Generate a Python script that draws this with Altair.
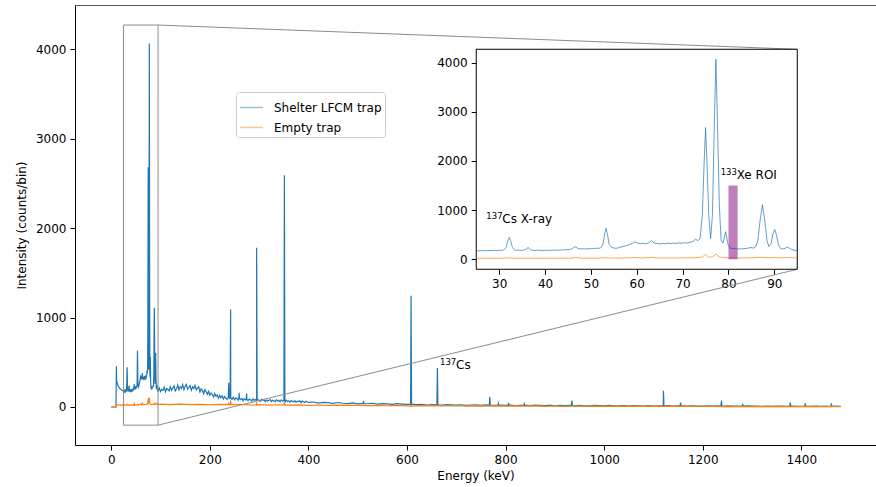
import altair as alt
import pandas as pd

FONT = "DejaVu Sans"
SERIES = ["Shelter LFCM trap", "Empty trap"]
COLORS = ["#1f77b4", "#ff7f0e"]

# ---------------- data (energy keV, counts/bin) ----------------
shelter_low = [(0.0, 0), (9.6, 0), (10.0, 200), (10.4, 455), (10.8, 300), (11.5, 280),
               (12.5, 262), (13.5, 245), (14.5, 232), (15.5, 222), (17.0, 210), (18.5, 200),
               (20.0, 195), (21.5, 188), (23.0, 182), (24.2, 178)]

shelter_zoom = [
    (25.0, 175), (25.5, 168), (26.0, 178), (26.5, 172), (27.0, 180), (27.5, 174), (28.0, 182),
    (28.5, 176), (29.0, 185), (29.5, 178), (30.0, 184), (30.5, 180), (31.0, 190), (31.5, 240),
    (31.9, 380), (32.2, 445), (32.5, 380), (32.9, 240), (33.3, 190), (33.8, 182), (34.3, 188),
    (34.8, 180), (35.3, 186), (35.8, 200), (36.3, 240), (36.8, 195), (37.3, 182), (37.8, 178),
    (38.3, 186), (38.8, 180), (39.3, 176), (39.8, 184), (40.3, 178), (40.8, 186), (41.3, 180),
    (41.8, 188), (42.3, 184), (42.8, 190), (43.3, 186), (43.8, 194), (44.3, 190), (44.8, 198),
    (45.3, 196), (45.8, 210), (46.3, 240), (46.7, 255), (47.1, 225), (47.6, 210), (48.1, 214),
    (48.6, 208), (49.1, 216), (49.6, 210), (50.1, 222), (50.6, 218), (51.1, 226), (51.6, 222),
    (52.1, 230), (52.6, 290), (53.0, 520), (53.3, 630), (53.6, 510), (54.0, 300), (54.5, 245),
    (55.0, 230), (55.5, 222), (56.0, 235), (56.5, 248), (57.0, 262), (57.5, 270), (58.0, 290),
    (58.5, 300), (59.0, 320), (59.6, 355), (60.2, 330), (60.8, 318), (61.4, 325), (62.0, 312),
    (62.6, 335), (63.2, 380), (63.8, 330), (64.4, 320), (65.0, 312), (65.6, 322), (66.2, 315),
    (66.8, 328), (67.4, 318), (68.0, 330), (68.6, 322), (69.2, 335), (69.8, 325), (70.4, 338),
    (71.0, 330), (71.6, 348), (72.2, 360), (72.8, 410), (73.3, 380), (73.8, 420), (74.3, 900),
    (74.7, 2000), (75.0, 2680), (75.3, 2000), (75.7, 900), (76.1, 420), (76.5, 900),
    (76.9, 2700), (77.25, 4065), (77.6, 2800), (78.0, 1100), (78.4, 380), (78.8, 330),
    (79.4, 560), (79.9, 300), (80.4, 225), (80.9, 215), (81.4, 220), (81.9, 208), (82.4, 215),
    (82.9, 210), (83.4, 218), (83.9, 222), (84.4, 228), (84.9, 240), (85.4, 228), (85.9, 250),
    (86.4, 380), (86.9, 800), (87.4, 1110), (87.9, 800), (88.4, 380), (88.8, 260), (89.3, 320),
    (89.7, 520), (90.1, 605), (90.5, 480), (90.9, 290), (91.4, 215), (91.9, 210), (92.4, 225),
    (92.8, 245), (93.3, 225), (93.8, 200), (94.3, 185), (95.0, 175)]

# continuum 97.5 - 400 keV, one value every 2.5 keV
cont_start, cont_step = 97.5, 2.5
shelter_cont = [
    212, 172, 196, 186, 224, 170, 205, 198, 180, 226,
    188, 214, 236, 180, 204, 244, 192, 226, 210, 250,
    196, 232, 252, 200, 218, 240, 188, 226, 206, 242,
    190, 214, 226, 168, 204, 184, 150, 196, 170, 142,
    176, 132, 156, 140, 112, 150, 120, 134, 98, 130,
    104, 126, 90, 116, 100, 84, 118, 96, 104, 86,
    108, 80, 100, 94, 76, 104, 84, 96, 70, 92,
    80, 96, 72, 88, 80, 66, 92, 74, 84, 68,
    84, 70, 62, 86, 74, 80, 60, 78, 68, 76,
    84, 60, 76, 70, 58, 82, 66, 74, 56, 78,
    66, 74, 54, 76, 62, 70, 52, 72, 64, 56,
    70, 52, 64, 60, 68, 48, 66, 58, 50, 64,
    56, 52]

# continuum 410 - 1480 keV, one value every 10 keV
tail_start, tail_step = 410.0, 10.0
shelter_tail = [
    56, 44, 52, 48, 40, 50, 42, 38, 46, 36,
    40, 36, 42, 32, 38, 35, 30, 38, 33, 29,
    31, 27, 30, 22, 28, 25, 21, 27, 23, 20,
    25, 19, 22, 24, 18, 23, 20, 17, 22, 18,
    22, 16, 19, 21, 15, 20, 17, 15, 20, 14,
    19, 15, 17, 13, 18, 14, 12, 17, 15, 12,
    17, 12, 14, 16, 11, 15, 13, 11, 15, 10,
    14, 11, 15, 10, 12, 14, 9, 13, 11, 9,
    13, 10, 12, 8, 13, 9, 11, 8, 12, 9,
    11, 8, 10, 7, 11, 9, 7, 10, 8, 6,
    10, 7, 9, 6, 10, 5, 9, 6]

# gamma lines: (energy, peak height, local continuum)
shelter_peaks = [(238.4, 270, 105), (242.2, 1090, 100), (259.6, 160, 90), (274.8, 150, 82),
                 (295.0, 1780, 78), (351.3, 2590, 66), (511.7, 66, 38), (608.3, 1245, 30),
                 (661.7, 436, 24), (768.0, 115, 20), (785.5, 40, 19), (806.0, 45, 18),
                 (838.0, 35, 17), (934.5, 72, 15), (1120.3, 182, 12), (1155.0, 50, 12),
                 (1238.0, 72, 11), (1281.0, 32, 10), (1377.5, 50, 9), (1408.0, 42, 8),
                 (1461.0, 40, 8)]

empty_low = [(0.0, 0), (9.8, 0), (10.2, 30), (11.0, 26), (13.0, 24), (16.0, 25), (19.0, 22),
             (22.0, 24), (25.0, 20), (27.0, 23), (29.0, 19), (31.0, 22), (32.2, 30), (33.4, 21),
             (36.0, 23), (38.0, 20), (40.0, 22), (42.0, 21), (44.0, 23), (46.0, 22), (46.7, 38),
             (47.5, 24), (50.0, 22), (52.0, 24), (53.3, 32), (54.5, 23), (57.0, 24), (59.6, 36),
             (61.0, 26), (63.3, 42), (64.5, 27), (67.0, 26), (70.0, 28), (72.5, 32), (74.3, 45),
             (75.0, 98), (75.7, 42), (76.4, 48), (77.25, 106), (78.0, 46), (79.0, 34),
             (80.0, 28), (82.0, 27), (85.0, 30), (87.4, 40), (88.5, 29), (90.1, 36), (91.0, 29),
             (92.8, 40), (94.0, 30), (95.0, 27)]

# empty trap continuum 100 - 1480 keV, one value every 20 keV
empty_start, empty_step = 100.0, 20.0
empty_cont = [
    32, 27, 31, 26, 30, 25, 29, 24, 28, 23,
    26, 21, 25, 20, 24, 19, 22, 18, 21, 17,
    19, 15, 18, 14, 17, 13, 16, 12, 15, 11,
    14, 10, 13, 10, 13, 9, 12, 9, 12, 8,
    11, 8, 11, 7, 10, 7, 10, 7, 9, 6,
    9, 6, 9, 6, 8, 6, 8, 5, 8, 5,
    7, 5, 7, 5, 7, 4, 6, 4, 6, 4]
empty_peaks = [(238.4, 40, 26), (242.2, 72, 26), (295.0, 42, 22), (351.3, 48, 20),
               (609.0, 22, 11), (1461.0, 12, 4)]

roi_kev = (80.0, 82.0)
roi_height = 1500

main_notes = [("137", "Cs", 667.0, 421.0)]
inset_notes = [("137", "Cs X-ray", 27.2, 732.0), ("133", "Xe ROI", 78.3, 1627.0)]

x_ticks = [0, 200, 400, 600, 800, 1000, 1200, 1400]
y_ticks = [0, 1000, 2000, 3000, 4000]
inset_x_ticks = [30, 40, 50, 60, 70, 80, 90]
inset_y_ticks = [0, 1000, 2000, 3000, 4000]

# ---------------- layout ----------------
W, H = 801, 440
X_DOM = [-73.5, 1551.5]
Y_DOM = [-425, 4495]
IX_DOM = [25, 95]
IY_DOM = [-203, 4271]
INSET_BOX = (740.5, 1391.8, 1540.0, 4000.0)   # inset placement in main data coords


def px(x):
    return (x - X_DOM[0]) / (X_DOM[1] - X_DOM[0]) * W


def py(y):
    return H - (y - Y_DOM[0]) / (Y_DOM[1] - Y_DOM[0]) * H


ix0, ix1 = px(INSET_BOX[0]), px(INSET_BOX[1])
iy_bot, iy_top = py(INSET_BOX[2]), py(INSET_BOX[3])


def build(low, grids, peaks, half):
    pts = list(low)
    for start, step, vals in grids:
        pts += [(start + i * step, v) for i, v in enumerate(vals)]
    for e, h, b in peaks:
        pts += [(e - half, b), (e, h), (e + half, b)]
    pts.sort()
    return pd.DataFrame(pts, columns=["energy", "counts"])


blue_df = build(shelter_low + shelter_zoom,
                [(cont_start, cont_step, shelter_cont), (tail_start, tail_step, shelter_tail)],
                shelter_peaks, 1.0)
blue_df["series"] = SERIES[0]
orange_df = build(empty_low, [(empty_start, empty_step, empty_cont)], empty_peaks, 1.0)
orange_df["series"] = SERIES[1]

blue_in = blue_df[(blue_df.energy >= IX_DOM[0]) & (blue_df.energy <= IX_DOM[1])]
orange_in = orange_df[(orange_df.energy >= IX_DOM[0]) & (orange_df.energy <= IX_DOM[1])]

zoom_rect = pd.DataFrame({"energy": [IX_DOM[0]], "energy_end": [IX_DOM[1]],
                          "counts": [IY_DOM[0]], "counts_end": [IY_DOM[1]]})
connectors = pd.DataFrame({"energy": [IX_DOM[1], IX_DOM[1]],
                           "energy_end": [INSET_BOX[1], INSET_BOX[1]],
                           "counts": [IY_DOM[1], IY_DOM[0]],
                           "counts_end": [INSET_BOX[3], INSET_BOX[2]]})
roi_df = pd.DataFrame({"energy": [roi_kev[0]], "energy_end": [roi_kev[1]],
                       "counts": [0], "counts_end": [roi_height]})
main_notes_df = pd.DataFrame(main_notes, columns=["sup", "base", "energy", "counts"])
inset_notes_df = pd.DataFrame(inset_notes, columns=["sup", "base", "energy", "counts"])

# ---------------- main axes ----------------
xm = alt.X("energy:Q", scale=alt.Scale(domain=X_DOM, nice=False, zero=False),
           axis=alt.Axis(orient="bottom", values=x_ticks, format="d", title="Energy (keV)",
                         titlePadding=5))
ym = alt.Y("counts:Q", scale=alt.Scale(domain=Y_DOM, nice=False, zero=False),
           axis=alt.Axis(orient="left", values=y_ticks, format="d", title="Intensity (counts/bin)",
                         titlePadding=7))
color = alt.Color("series:N", scale=alt.Scale(domain=SERIES, range=COLORS),
                  legend=alt.Legend(orient="none", legendX=161, legendY=87, title=None,
                                    symbolType="stroke", symbolSize=529, symbolStrokeWidth=1.5,
                                    symbolOpacity=0.45, labelFont=FONT, labelFontSize=12,
                                    labelColor="black", padding=3, rowPadding=1, labelOffset=10,
                                    strokeColor="#cccccc", fillColor="white", cornerRadius=3,
                                    labelLimit=300))

blue_main = alt.Chart(blue_df).mark_line(strokeWidth=1.2, clip=True).encode(x=xm, y=ym, color=color)
orange_main = alt.Chart(orange_df).mark_line(strokeWidth=1.2, clip=True).encode(x=xm, y=ym, color=color)
rect_main = alt.Chart(zoom_rect).mark_rect(fill="white", fillOpacity=0, stroke="#8c8c8c",
                                           strokeWidth=1).encode(
    x=xm, x2="energy_end:Q", y=ym, y2="counts_end:Q")
note_sup = alt.Chart(main_notes_df).mark_text(font=FONT, fontSize=8.5, align="left",
                                              baseline="alphabetic", dy=-4.5, color="black").encode(
    x=xm, y=ym, text="sup:N")
note_base = alt.Chart(main_notes_df).mark_text(font=FONT, fontSize=12, align="left",
                                               baseline="alphabetic", dx=16, color="black").encode(
    x=xm, y=ym, text="base:N")
main = alt.layer(blue_main, orange_main, rect_main, note_sup, note_base)

# ---------------- connectors + top frame line ----------------
xc = alt.X("energy:Q", scale=alt.Scale(domain=X_DOM, nice=False, zero=False),
           axis=alt.Axis(orient="top", labels=False, ticks=False, domain=True,
                         domainColor="#555555", title=None))
yc = alt.Y("counts:Q", scale=alt.Scale(domain=Y_DOM, nice=False, zero=False), axis=None)
conn = alt.Chart(connectors).mark_rule(color="#8c8c8c", strokeWidth=1).encode(
    x=xc, x2="energy_end:Q", y=yc, y2="counts_end:Q")

# ---------------- inset axes ----------------
xi = alt.X("energy:Q", scale=alt.Scale(domain=IX_DOM, range=[ix0, ix1], nice=False, zero=False),
           axis=alt.Axis(orient="bottom", offset=iy_bot - H, values=inset_x_ticks, format="d",
                         domain=False, title=None))
yi = alt.Y("counts:Q", scale=alt.Scale(domain=IY_DOM, range=[iy_bot, iy_top], nice=False, zero=False),
           axis=alt.Axis(orient="left", offset=-ix0, values=inset_y_ticks, format="d",
                         domain=False, title=None))

in_box = alt.Chart(zoom_rect).mark_rect(fill="white", stroke="black", strokeWidth=1).encode(
    x=xi, x2="energy_end:Q", y=yi, y2="counts_end:Q")
in_blue = alt.Chart(blue_in).mark_line(strokeWidth=0.7, color=COLORS[0]).encode(x=xi, y=yi)
in_orange = alt.Chart(orange_in).mark_line(strokeWidth=0.7, color=COLORS[1]).encode(x=xi, y=yi)
in_roi = alt.Chart(roi_df).mark_rect(color="purple", opacity=0.5).encode(
    x=xi, x2="energy_end:Q", y=yi, y2="counts_end:Q")
in_sup = alt.Chart(inset_notes_df).mark_text(font=FONT, fontSize=8.5, align="left",
                                             baseline="alphabetic", dy=-4.5, color="black").encode(
    x=xi, y=yi, text="sup:N")
in_base = alt.Chart(inset_notes_df).mark_text(font=FONT, fontSize=12, align="left",
                                              baseline="alphabetic", dx=16, color="black").encode(
    x=xi, y=yi, text="base:N")
inset = alt.layer(in_box, in_blue, in_orange, in_roi, in_sup, in_base)

chart = (
    alt.layer(main, conn, inset)
    .resolve_scale(x="independent", y="independent")
    .properties(width=W, height=H, background="white",
                padding={"left": 75, "top": 5, "right": 0, "bottom": 42},
                autosize=alt.AutoSizeParams(type="none"))
    .configure_view(strokeWidth=0)
    .configure_axis(grid=False, labelFont=FONT, titleFont=FONT, labelFontSize=12,
                    titleFontSize=12, titleFontWeight="normal", labelColor="black",
                    titleColor="black", tickColor="black", domainColor="black",
                    tickSize=5, labelPadding=4)
)

chart.save("out.html", embed_options={"renderer": "svg", "actions": False})
